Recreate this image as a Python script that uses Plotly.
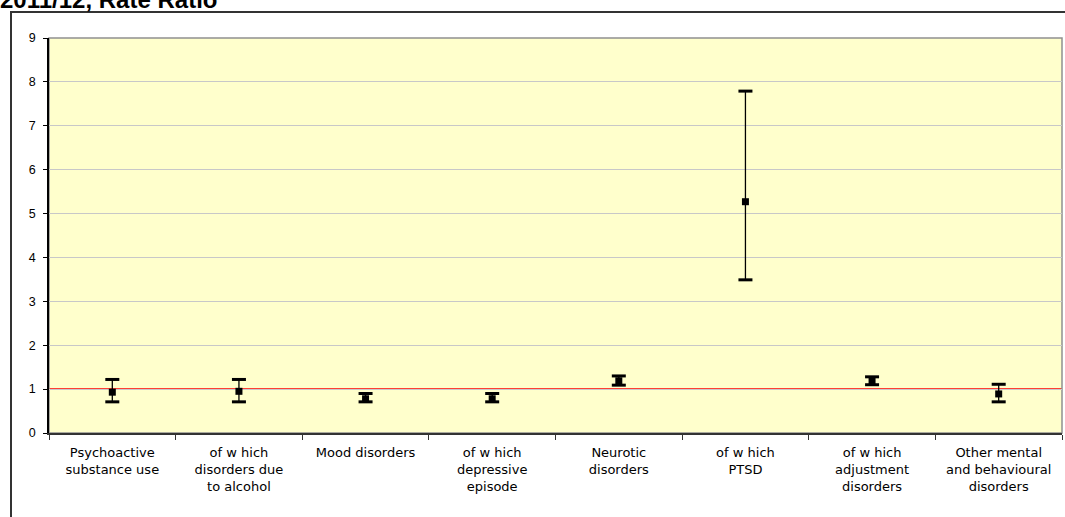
import plotly.graph_objects as go

categories = [
    "Psychoactive<br>substance use",
    "of w hich<br>disorders due<br>to alcohol",
    "Mood disorders",
    "of w hich<br>depressive<br>episode",
    "Neurotic<br>disorders",
    "of w hich<br>PTSD",
    "of w hich<br>adjustment<br>disorders",
    "Other mental<br>and behavioural<br>disorders",
]
rate_ratio = [0.93, 0.95, 0.78, 0.78, 1.19, 5.27, 1.18, 0.89]
upper_ci = [1.22, 1.22, 0.90, 0.90, 1.30, 7.79, 1.28, 1.11]
lower_ci = [0.71, 0.71, 0.71, 0.71, 1.09, 3.49, 1.10, 0.71]
y_ticks = list(range(0, 10))
reference_value = 1
title_text = "2011/12, Rate Ratio"

err_plus = [u - v for u, v in zip(upper_ci, rate_ratio)]
err_minus = [v - l for v, l in zip(rate_ratio, lower_ci)]

fig = go.Figure()

fig.add_trace(go.Scatter(
    x=categories, y=rate_ratio, mode="markers",
    marker=dict(symbol="square", size=7, color="black"),
    error_y=dict(type="data", symmetric=False, array=err_plus, arrayminus=err_minus,
                 color="black", thickness=1.3, width=0),
    showlegend=False, hoverinfo="skip",
))
for vals in (upper_ci, lower_ci):
    fig.add_trace(go.Scatter(
        x=categories, y=vals, mode="markers",
        marker=dict(symbol="line-ew", size=10, line=dict(width=3, color="black")),
        showlegend=False, hoverinfo="skip",
    ))

L, R, T, B = 49, 3, 38, 84
W, H = 1065, 517
pw, ph = W - L - R, H - T - B

def px_x(p):
    return (p - L) / pw

def px_y(p):
    return (H - B - p) / ph

# red reference line
fig.add_shape(type="line", xref="paper", yref="y", x0=0, x1=1,
              y0=reference_value, y1=reference_value,
              line=dict(color="#FF0000", width=1.5), layer="below")
# plot area gray frame (top/right)
fig.add_shape(type="rect", xref="paper", yref="paper", x0=0, x1=1, y0=0, y1=1,
              line=dict(color="#909090", width=1.5), layer="below")
# outer chart border
fig.add_shape(type="rect", xref="paper", yref="paper",
              x0=px_x(11), x1=px_x(1075), y0=px_y(530), y1=px_y(12),
              line=dict(color="#333333", width=2))

fig.add_annotation(text="<b>" + title_text + "</b>", xref="paper", yref="paper",
                   x=px_x(-2), y=px_y(15), xanchor="left", yanchor="bottom",
                   showarrow=False, font=dict(family="Liberation Sans, Arial", size=24, color="black"))

fig.update_layout(
    width=W, height=H,
    margin=dict(l=L, r=R, t=T, b=B, pad=0),
    paper_bgcolor="white",
    plot_bgcolor="#FFFFCC",
    font=dict(family="DejaVu Sans, Liberation Sans, Arial", size=13, color="black"),
    xaxis=dict(
        type="category", tickson="boundaries", ticks="outside", ticklen=5,
        tickcolor="#333333", showgrid=False, showline=True, linecolor="#333333",
        linewidth=1.5, ticklabelstandoff=7, range=[-0.5, len(categories) - 0.5],
        tickfont=dict(family="DejaVu Sans, Liberation Sans, Arial", size=13, color="black"),
    ),
    yaxis=dict(
        range=[0, 9], tickvals=y_ticks, ticks="outside", ticklen=4, tickcolor="black",
        showgrid=True, gridcolor="#C8C8C8", gridwidth=1, showline=True,
        linecolor="black", linewidth=1.5, zeroline=False, ticklabelstandoff=5,
        tickfont=dict(family="Liberation Sans, Arial", size=12.5, color="black"),
    ),
)

fig.write_html("out.html", config={"displayModeBar": False},
               post_script="document.body.style.margin='0px';")
